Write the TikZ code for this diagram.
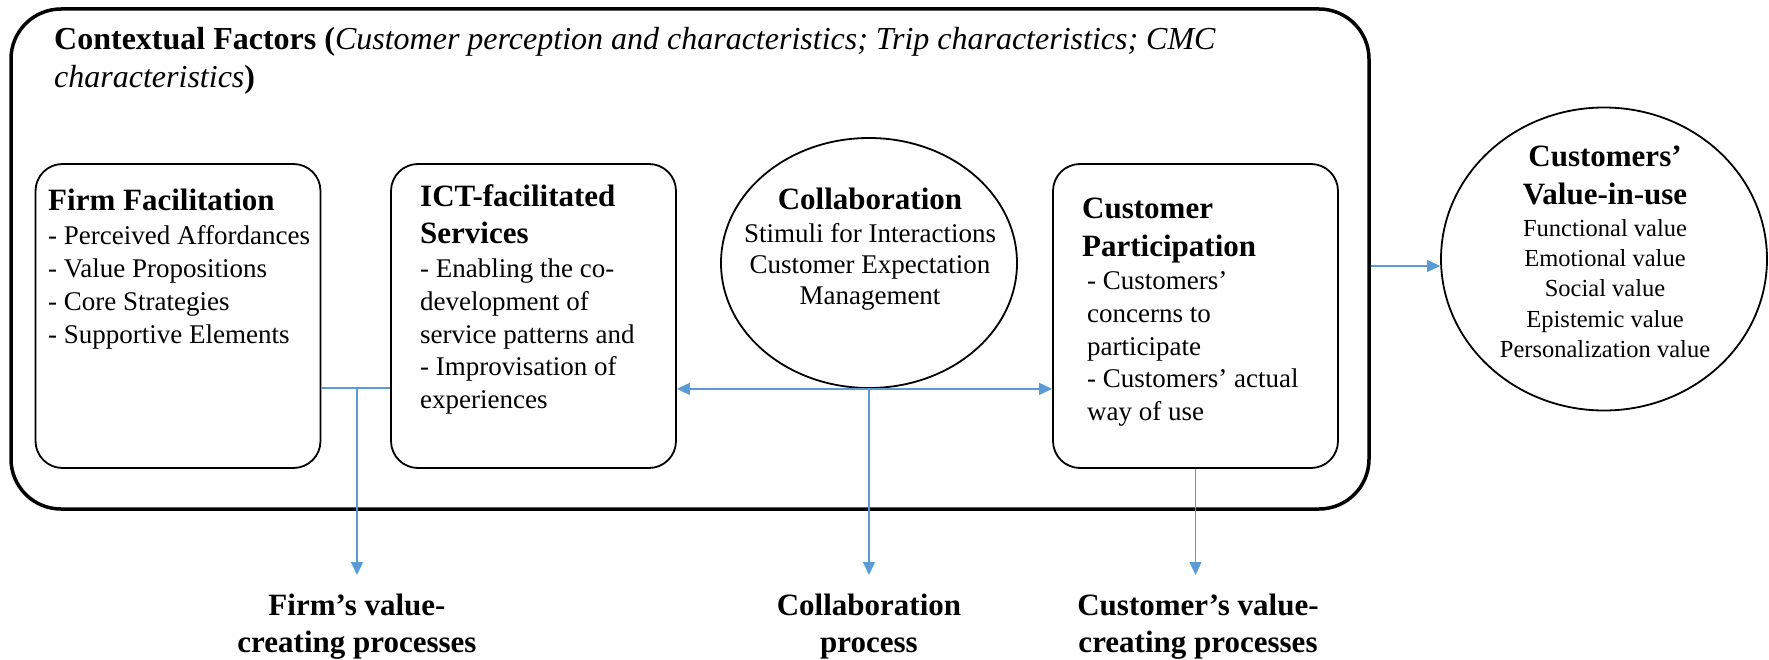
\documentclass[tikz,border=0pt]{standalone}
\usepackage{fontspec}
\setmainfont{Liberation Serif}
\usetikzlibrary{arrows.meta,shapes.geometric}
\begin{document}
\begin{tikzpicture}[x=1pt,y=-1pt,
  frame/.style={draw=black,line width=3.5pt,rounded corners=50pt,rectangle,inner sep=0pt},
  panel/.style={draw=black,line width=1.8pt,rounded corners=27pt,rectangle,inner sep=0pt,
    minimum width=285pt,minimum height=304pt},
  oval/.style={draw=black,line width=1.8pt,ellipse,inner sep=0pt},
  title/.style={inner sep=0pt,font=\fontsize{32}{38}\selectfont},
  head/.style={inner sep=0pt,font=\fontsize{31}{37}\selectfont\bfseries},
  body/.style={inner sep=0pt,font=\fontsize{27}{32}\selectfont},
  small/.style={inner sep=0pt,font=\fontsize{24.5}{30}\selectfont},
  link/.style={draw=linkblue,line width=1.2pt},
  tip/.style={-{Triangle[length=13pt,width=12pt]}},
  both/.style={{Triangle[length=13pt,width=12pt]}-{Triangle[length=13pt,width=12pt]}}
]
\definecolor{linkblue}{HTML}{5B9BD5}
\useasboundingbox (0,0) rectangle (1769,660);

% outer frame for the contextual factors
\node[frame,minimum width=1358pt,minimum height=500pt] (ctx) at (690,259) {};
\node[title,anchor=base west] (ctx-t1) at (54,50)
  {\textbf{Contextual Factors (}\textit{Customer perception and characteristics; Trip characteristics; CMC}};
\node[title,anchor=base west] (ctx-t2) at (54,88)
  {\textit{characteristics}\textbf{)}};

% the four building blocks
\node[panel] (firm) at (178,316) {};
\node[panel] (ict) at (533.5,316) {};
\node[oval,minimum width=296pt,minimum height=250pt] (collab) at (869,263) {};
\node[panel] (part) at (1195.5,316) {};
\node[oval,minimum width=326pt,minimum height=303pt] (viu) at (1604,259) {};

% firm facilitation
\node[head,anchor=base west] (firm-h) at (48,211) {Firm Facilitation};
\foreach \txt [count=\i from 0] in {- Perceived Affordances,- Value Propositions,- Core Strategies,- Supportive Elements}
  \node[body,anchor=base west] (firm-b\i) at (48,245+32.7*\i) {\txt};

% ICT-facilitated services
\node[head,anchor=base west] (ict-h1) at (420,207) {ICT-facilitated};
\node[head,anchor=base west] (ict-h2) at (420,244) {Services};
\foreach \txt [count=\i from 0] in {- Enabling the co-,development of,service patterns and,- Improvisation of,experiences}
  \node[body,anchor=base west] (ict-b\i) at (420,278+32.5*\i) {\txt};

% collaboration
\node[head,anchor=base] (collab-h) at (870,210) {Collaboration};
\foreach \txt [count=\i from 0] in {Stimuli for Interactions,Customer Expectation,Management}
  \node[body,anchor=base] (collab-b\i) at (870,243+31*\i) {\txt};

% customer participation
\node[head,anchor=base west] (part-h1) at (1082,219) {Customer};
\node[head,anchor=base west] (part-h2) at (1082,257) {Participation};
\foreach \txt [count=\i from 0] in {- Customers’,concerns to,participate,- Customers’ actual,way of use}
  \node[body,anchor=base west] (part-b\i) at (1087,290+32.5*\i) {\txt};

% customers' value-in-use
\node[head,anchor=base] (viu-h1) at (1605,167) {Customers’};
\node[head,anchor=base] (viu-h2) at (1605,205) {Value-in-use};
\foreach \txt [count=\i from 0] in {Functional value,Emotional value,Social value,Epistemic value,Personalization value}
  \node[small,anchor=base] (viu-b\i) at (1605,237+30*\i) {\txt};

% process labels below the frame
\node[head,anchor=base] (lbl-firm1) at (357,615) {Firm’s value-};
\node[head,anchor=base] (lbl-firm2) at (357,652) {creating processes};
\node[head,anchor=base] (lbl-col1) at (869,615) {Collaboration};
\node[head,anchor=base] (lbl-col2) at (869,652) {process};
\node[head,anchor=base] (lbl-cus1) at (1198,615) {Customer’s value-};
\node[head,anchor=base] (lbl-cus2) at (1198,652) {creating processes};

% connectors
\coordinate (fj) at (357,388);
\coordinate (fend) at (357,575);
\coordinate (cend) at (869,575);
\coordinate (pend) at (part.south |- fend);
\coordinate (vy) at (0,266);

\draw[link] (firm.east |- fj) -- (ict.west |- fj);
\draw[link,tip] (fj) -- (fend);
\draw[link,both] (ict.east |- collab.south) -- (part.west |- collab.south);
\draw[link,tip] (collab.south) -- (cend);
\draw[link,tip] (part.south) -- (pend);
\draw[link,tip] (ctx.east |- vy) -- (viu.west |- vy);
\end{tikzpicture}
\end{document}
